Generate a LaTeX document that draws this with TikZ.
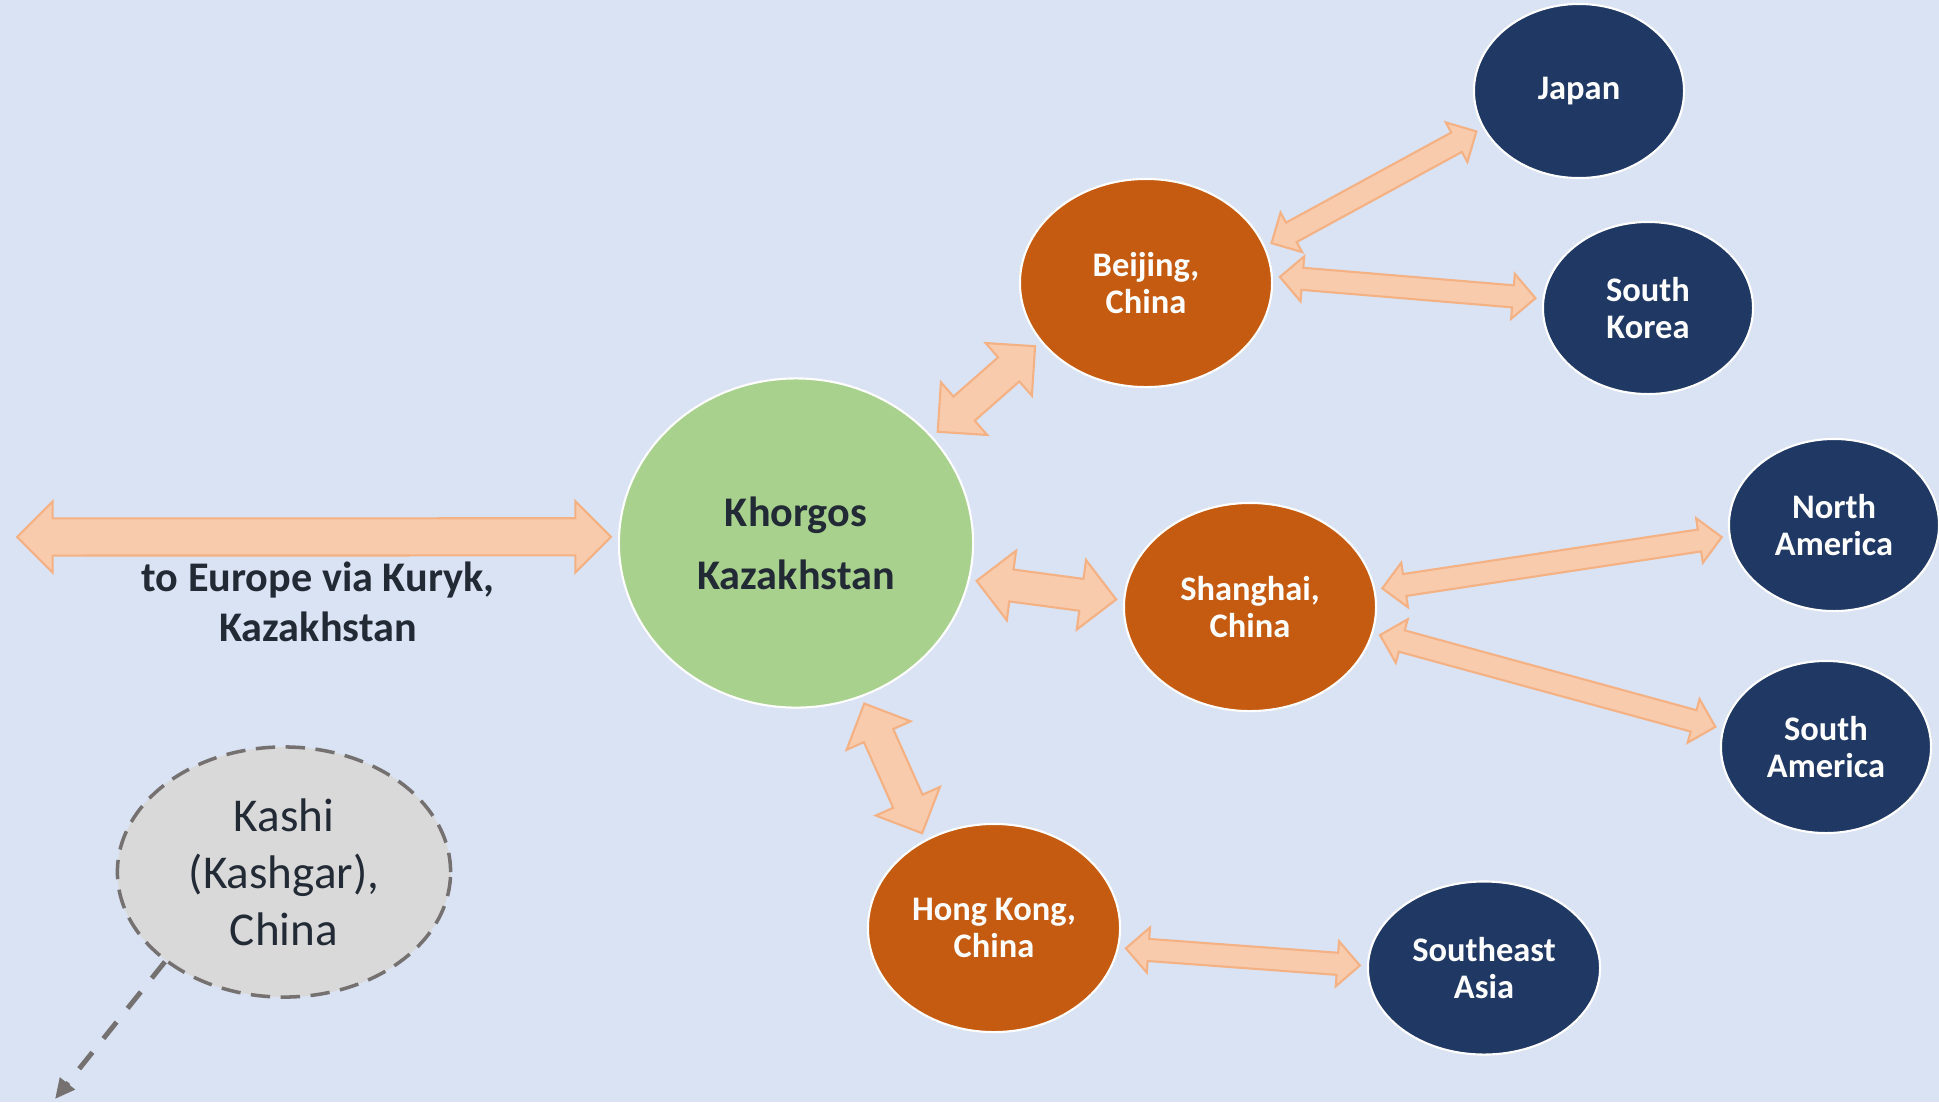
\documentclass[tikz,border=0pt]{standalone}
\usepackage{fontspec}
\setmainfont{Carlito}
\usetikzlibrary{arrows.meta,calc,shapes.geometric,shapes.arrows}
\definecolor{MapBg}{HTML}{DAE3F3}
\definecolor{HubGreen}{HTML}{A9D18E}
\definecolor{CityOrange}{HTML}{C55A11}
\definecolor{DestNavy}{HTML}{203864}
\definecolor{FlowFill}{HTML}{F8CBAD}
\definecolor{FlowLine}{HTML}{F4B183}
\definecolor{KashiGrey}{HTML}{D9D9D9}
\definecolor{DashGrey}{HTML}{767171}
\definecolor{InkDark}{HTML}{222A35}

\tikzset{
  hub/.style={ellipse,draw=white,line width=0.6pt,fill=HubGreen,text=InkDark,
    font=\fontsize{12}{18}\selectfont\bfseries,align=center,
    minimum width=3.54cm,minimum height=3.29cm,inner sep=0pt},
  city/.style={ellipse,draw=white,line width=0.6pt,fill=CityOrange,text=white,
    font=\fontsize{9.8}{10.7}\selectfont\bfseries,align=center,
    minimum width=2.52cm,minimum height=2.08cm,inner sep=0pt},
  dest/.style={city,fill=DestNavy,minimum width=2.1cm,minimum height=1.72cm},
  flow/.style={double arrow,draw=FlowLine,line width=0.6pt,fill=FlowFill,
    inner xsep=0pt,inner ysep=0.1cm,double arrow head extend=0.115cm,
    minimum width=0pt},
  bigflow/.style={inner ysep=0.15cm,double arrow head extend=0.19cm},
  euflow/.style={inner ysep=0.175cm,double arrow head extend=0.17cm},
}

% block arrow between two named points, 2pt clear of each end
\newcommand{\linkarrow}[3][]{%
  \path let \p1=(#2), \p2=(#3),
    \n1={veclen(\x2-\x1,\y2-\y1)}, \n2={atan2(\y2-\y1,\x2-\x1)} in
    node[flow,#1,minimum height={\n1-4pt},rotate=\n2] at ($(\p1)!.5!(\p2)$) {};
}

\begin{document}
\begin{tikzpicture}[x=0.01cm,y=-0.01cm]
  \fill[MapBg] (0,0) rectangle (1939,1102);
  \useasboundingbox (0,0) rectangle (1939,1102);

  \node[hub] (kh) at (796,543) {Khorgos\\Kazakhstan};
  \node[city] (bj) at (1146,283) {Beijing,\\China};
  \node[city] (sh) at (1250,607) {Shanghai,\\China};
  \node[city] (hk) at (994,928) {Hong Kong,\\China};

  \node[dest,minimum height=1.74cm] (jp) at (1579,91) {Japan};
  \node[dest] (sk) at (1648,308) {South\\Korea};
  \node[dest] (na) at (1834,525) {North\\America};
  \node[dest] (sa) at (1826,747) {South\\America};
  \node[dest,minimum width=2.32cm,minimum height=1.73cm] (sea) at (1484,968) {Southeast\\Asia};

  \node[ellipse,draw=DashGrey,line width=1pt,dash pattern=on 5.5pt off 3pt,
    fill=KashiGrey,text=InkDark,font=\fontsize{13.4}{16.2}\selectfont,align=center,
    minimum width=3.33cm,minimum height=2.5cm,inner sep=0pt] (ks) at (284,872)
    {Kashi\\(Kashgar),\\China};

  \node[text=InkDark,font=\fontsize{12}{14.2}\selectfont\bfseries,align=center]
    (eutext) at (318,602) {to Europe via Kuryk,\\Kazakhstan};

  \coordinate (europe) at (10,537);
  \coordinate (kashiend) at (55,1099);

  \linkarrow[euflow]{europe}{kh.178}
  \linkarrow[bigflow]{kh.38}{bj.209}
  \linkarrow[bigflow]{kh.348}{sh.177}
  \linkarrow[bigflow]{kh.293}{hk.128}
  \linkarrow{bj.17}{jp.201}
  \linkarrow{bj.3}{sk.175}
  \linkarrow{sh.8}{na.186}
  \linkarrow{sh.348}{sa.170}
  \linkarrow{hk.351}{sea.179}

  \draw[DashGrey,line width=1.4pt,dash pattern=on 6pt off 5pt,
    -{Triangle[length=5.7pt,width=5.2pt]}] (ks.217) -- (kashiend);
\end{tikzpicture}
\end{document}
